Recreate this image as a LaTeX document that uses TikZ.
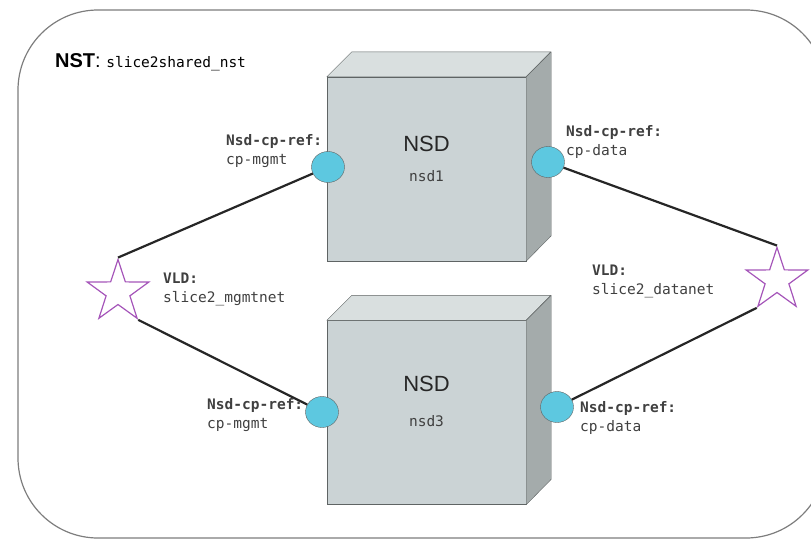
\documentclass[tikz,border=0pt]{standalone}
\usepackage{fontspec}
\setmainfont{Liberation Sans}
\newfontfamily\codefont{DejaVu Sans Mono}
\usetikzlibrary{shapes.geometric, positioning}

\definecolor{frontgray}{RGB}{203,211,213}
\definecolor{topgray}{RGB}{217,223,223}
\definecolor{sidegray}{RGB}{164,171,171}
\definecolor{edgegray}{RGB}{95,100,100}
\definecolor{portblue}{RGB}{93,200,224}
\definecolor{vldpurple}{RGB}{165,85,185}
\definecolor{framegray}{RGB}{125,125,125}

\tikzstyle{nsdbox} = [rectangle, minimum width=199pt, minimum height=184pt, inner sep=0pt, draw=edgegray, fill=frontgray]
\tikzstyle{face} = [draw=edgegray, line join=round]
\tikzstyle{port} = [ellipse, minimum width=33pt, minimum height=31pt, inner sep=0pt, draw=edgegray, fill=portblue]
\tikzstyle{vld} = [star, star points=5, star point ratio=2.6, minimum size=65pt, inner sep=0pt, draw=vldpurple, line width=1.2pt]
\tikzstyle{link} = [line width=2.2pt, draw=black!85]
\tikzstyle{reflabel} = [anchor=west, align=left, inner sep=0pt, text=black!75, font=\codefont\fontsize{14.5}{19}\selectfont]
\tikzstyle{nsdtitle} = [inner sep=0pt, text=black!85, font=\fontsize{22}{22}\selectfont]
\tikzstyle{nsdname} = [inner sep=0pt, text=black!75, font=\codefont\fontsize{14.5}{16}\selectfont]

\begin{document}
\begin{tikzpicture}[x=1pt, y=-1pt]
      \useasboundingbox (0,0) rectangle (811,538);
      \clip (0,0) rectangle (811,538);

      % outer NST frame
      \draw [framegray, line width=1.2pt, rounded corners=80pt] (18,10) rectangle (826,538);
      \node (nst) [anchor=west, inner sep=0pt] at (55,62)
            {\fontsize{20}{20}\selectfont\textbf{NST}: {\codefont\fontsize{14.5}{16}\selectfont slice2shared\_nst}};

      % the two NSD boxes (front face as node, top and side drawn on it)
      \node (nsdA) [nsdbox] at (426.5,169) {};
      \node (nsdB) [nsdbox] at (426.5,412.5) {};
      \foreach \b in {nsdA, nsdB} {
            \draw [face, fill=topgray] (\b.north west) -- ++(25,-25) -- ++(199,0) -- (\b.north east) -- cycle;
            \draw [face, fill=sidegray] (\b.north east) -- ++(25,-25) -- ++(0,184) -- (\b.south east) -- cycle;
      }
      \node (titleA) [nsdtitle] at ([yshift=25pt]nsdA.center) {NSD};
      \node (nameA) [nsdname] at ([yshift=-7pt]nsdA.center) {nsd1};
      \node (titleB) [nsdtitle] at ([yshift=29pt]nsdB.center) {NSD};
      \node (nameB) [nsdname] at ([yshift=-9pt]nsdB.center) {nsd3};

      % connection points
      \node (cpA1) [port] at (328,167) {};
      \node (cpA2) [port] at (548,162) {};
      \node (cpB1) [port] at (322,412) {};
      \node (cpB2) [port] at (557,407) {};

      % virtual links
      \node (vldMgmt) [vld] at (118,292) {};
      \node (vldData) [vld] at (777,280) {};

      \draw [link] (cpA1) -- (vldMgmt.outer point 1);
      \draw [link] (vldMgmt.outer point 4) -- (cpB1);
      \draw [link] (cpA2) -- (vldData.outer point 1);
      \draw [link] (vldData.outer point 3) -- (cpB2);

      % labels
      \node (lblA1) [reflabel] at (226,151) {\textbf{Nsd-cp-ref:}\\cp-mgmt};
      \node (lblA2) [reflabel] at (566,142) {\textbf{Nsd-cp-ref:}\\cp-data};
      \node (lblB1) [reflabel] at (207,415) {\textbf{Nsd-cp-ref:}\\cp-mgmt};
      \node (lblB2) [reflabel] at (580,418) {\textbf{Nsd-cp-ref:}\\cp-data};
      \node (lblMgmt) [reflabel] at (163,289) {\textbf{VLD:}\\slice2\_mgmtnet};
      \node (lblData) [reflabel] at (592,281) {\textbf{VLD:}\\slice2\_datanet};
\end{tikzpicture}
\end{document}
